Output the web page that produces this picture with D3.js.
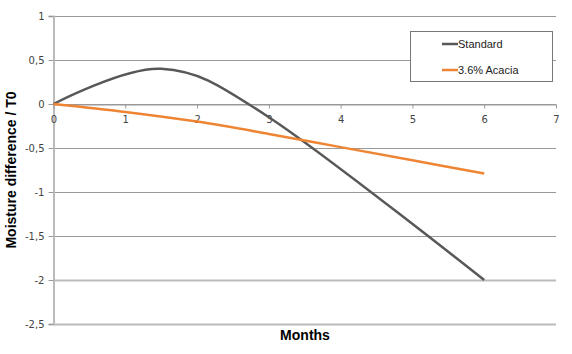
<!DOCTYPE html>
<html>
<head>
<meta charset="utf-8">
<script src="https://cdn.jsdelivr.net/npm/d3@7"></script>
<style>
  body { margin: 0; background: #fff; }
  .tick text { font-family: "DejaVu Sans", sans-serif; font-size: 10px; fill: #444; }
  .title { font-family: "Liberation Sans", Arial, sans-serif; font-weight: bold; font-size: 14px; fill: #000; }
  .leg { font-family: "Liberation Sans", Arial, sans-serif; font-size: 11px; fill: #222; }
</style>
</head>
<body>
<svg id="chart" width="572" height="354"></svg>
<script>
// data
let stdMonths = [0, 1.5, 3, 6];
let standard = [0, 0.40, -0.15, -2.0];
let acaMonths = [0, 1, 2, 3, 4, 5, 6];
let acacia = [0, -0.09, -0.2, -0.34, -0.49, -0.64, -0.79];
let xTicks = [0, 1, 2, 3, 4, 5, 6, 7];
let yTicks = [1, 0.5, 0, -0.5, -1, -1.5, -2, -2.5];
let seriesNames = ["Standard", "3.6% Acacia"];
let seriesColors = ["#585858", "#ee8534"];

let svg = d3.select("#chart");

let x = d3.scaleLinear().domain([0, 7]).range([53.5, 556]);
let y = d3.scaleLinear().domain([-2.5, 1]).range([324, 16]);

// horizontal grid lines
svg.append("g").selectAll("line").data(yTicks).enter().append("line")
    .attr("x1", x(0)).attr("x2", x(7))
    .attr("y1", function(d) { return Math.round(y(d)) + 0.5; })
    .attr("y2", function(d) { return Math.round(y(d)) + 0.5; })
    .attr("stroke", function(d) { return d <= -2 ? "#bbb" : "#999"; })
    .attr("stroke-width", function(d) { return d <= -2 ? 2 : 1; });

// y axis
let yAxis = svg.append("g")
    .attr("transform", "translate(" + x(0) + ",0)")
    .call(d3.axisLeft(y).tickValues(yTicks).tickSize(5).tickPadding(4)
        .tickFormat(function(d) { return String(d).replace(".", ","); }));
yAxis.select(".domain").attr("stroke", "#bbb").attr("stroke-width", 2);
yAxis.selectAll(".tick line").attr("stroke", "#999");

// x axis on the zero line
let xAxis = svg.append("g")
    .attr("transform", "translate(0," + (Math.round(y(0)) + 0.5) + ")")
    .call(d3.axisBottom(x).tickValues(xTicks).tickFormat(d3.format("d"))
        .tickSize(4).tickPadding(7).tickSizeOuter(0));
xAxis.select(".domain").attr("stroke", "#999");
xAxis.selectAll(".tick line").attr("stroke", "#999");

// lines, smoothed like the spreadsheet
function makeLine(ms) {
    return d3.line()
        .x(function(d, i) { return x(ms[i]); })
        .y(function(d) { return y(d); })
        .curve(d3.curveCatmullRom.alpha(0));
}

svg.append("path")
    .attr("d", makeLine(stdMonths)(standard))
    .attr("fill", "none")
    .attr("stroke", seriesColors[0])
    .attr("stroke-width", 2.5);

svg.append("path")
    .attr("d", makeLine(acaMonths)(acacia))
    .attr("fill", "none")
    .attr("stroke", seriesColors[1])
    .attr("stroke-width", 2.5);

// legend
svg.append("rect")
    .attr("x", 410.5).attr("y", 31.5).attr("width", 142).attr("height", 50)
    .attr("fill", "#fff").attr("stroke", "#777");
seriesNames.forEach(function(n, i) {
    let ly = 44 + i * 26;
    svg.append("line")
        .attr("x1", 442).attr("x2", 458).attr("y1", ly).attr("y2", ly)
        .attr("stroke", seriesColors[i]).attr("stroke-width", 2.5);
    svg.append("text").attr("class", "leg")
        .attr("x", 458).attr("y", ly + 4).text(n);
});

// titles
svg.append("text").attr("class", "title")
    .attr("x", 305).attr("y", 340).attr("text-anchor", "middle").text("Months");
svg.append("text").attr("class", "title")
    .attr("transform", "translate(16,170) rotate(-90)")
    .attr("text-anchor", "middle").text("Moisture difference / T0");
</script>
</body>
</html>
